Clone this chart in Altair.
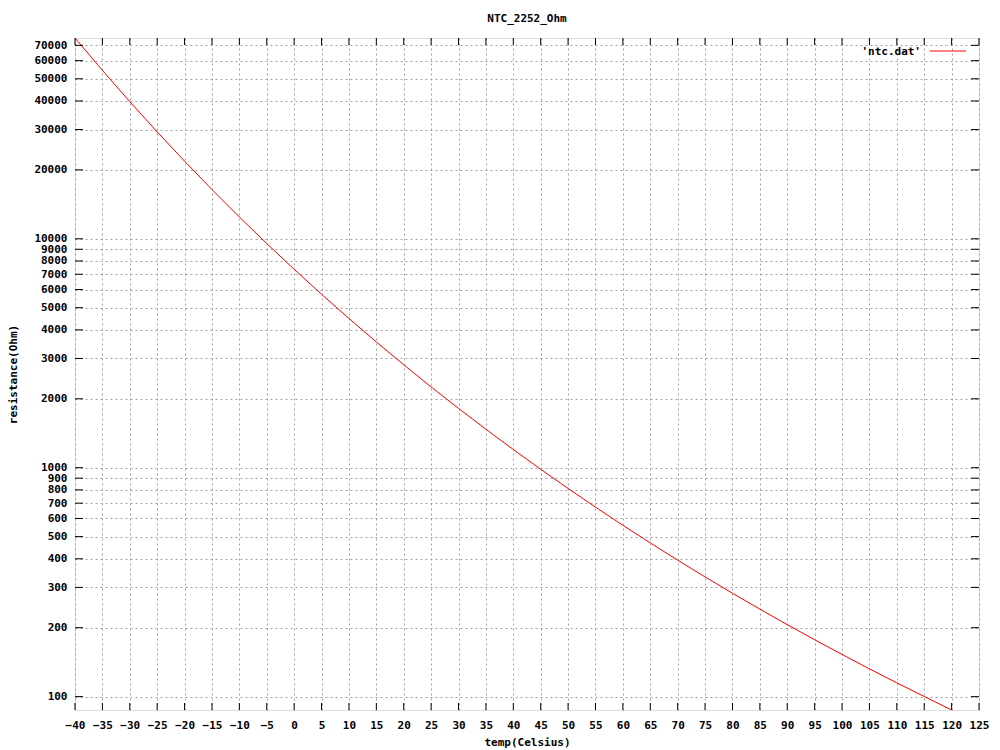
import altair as alt
import pandas as pd

# Data (NTC 2252 Ohm thermistor)
temps = [-40, -35, -30, -25, -20, -15, -10, -5, 0, 5, 10, 15, 20, 25, 30, 35, 40,
         45, 50, 55, 60, 65, 70, 75, 80, 85, 90, 95, 100, 105, 110, 115, 120]
resistance = [75360, 54410, 39720, 29300, 21830, 16410, 12450, 9533, 7357, 5723,
              4486, 3542, 2816, 2252, 1816, 1472, 1200, 984.1, 811.4, 672.6, 560.3,
              469.1, 394.5, 333.3, 282.9, 241.1, 206.3, 177.2, 152.8, 132.2, 114.8,
              100.1, 87.4]

x_ticks = list(range(-40, 130, 5))
y_ticks = [100, 200, 300, 400, 500, 600, 700, 800, 900,
           1000, 2000, 3000, 4000, 5000, 6000, 7000, 8000, 9000,
           10000, 20000, 30000, 40000, 50000, 60000, 70000]

title_text = "NTC_2252_Ohm"
x_title = "temp(Celsius)"
y_title = "resistance(Ohm)"
legend_label = "'ntc.dat'"

W, H = 904, 672
TICK = 7
FONT = "DejaVu Sans Mono"

df = pd.DataFrame({"temp": temps, "res": resistance})
dfx = pd.DataFrame({"temp": x_ticks})
dfy = pd.DataFrame({"res": y_ticks})

xscale = alt.Scale(domain=[-40, 125], nice=False, zero=False)
yscale = alt.Scale(type="log", domain=[87.4, 75360], nice=False)

xaxis = alt.Axis(values=x_ticks, grid=True, tickSize=0, domain=False,
                 labelPadding=9, labelFont=FONT, labelFontSize=11, labelFontWeight="bold",
                 labelColor="black", labelFlush=False, labelOverlap=False,
                 title=x_title, titleFont=FONT, titleFontSize=11, titleFontWeight="bold",
                 titleColor="black",
                 titleX=W / 2, titleY=32, titleBaseline="middle", titleAlign="center",
                 gridColor="#a0a0a0", gridDash=[2, 3], gridWidth=1, format="d")
yaxis = alt.Axis(values=y_ticks, grid=True, tickSize=0, domain=False,
                 labelPadding=8, labelFont=FONT, labelFontSize=11, labelFontWeight="bold",
                 labelColor="black", labelFlush=False, labelOverlap=False,
                 title=y_title, titleFont=FONT, titleFontSize=11, titleFontWeight="bold",
                 titleColor="black",
                 titleX=-62, titleY=H / 2, titleAngle=270, titleBaseline="middle",
                 titleAlign="center",
                 gridColor="#a0a0a0", gridDash=[2, 3], gridWidth=1, format="d")

X = alt.X("temp:Q", scale=xscale, axis=xaxis)
Y = alt.Y("res:Q", scale=yscale, axis=yaxis)

line = alt.Chart(df).mark_line(color="#ff0000", strokeWidth=1, clip=True).encode(x=X, y=Y)

tick_style = dict(color="black", strokeWidth=1)
xt_bottom = alt.Chart(dfx).mark_rule(**tick_style).encode(
    x=X, y=alt.value(H - TICK), y2=alt.value(H))
xt_top = alt.Chart(dfx).mark_rule(**tick_style).encode(
    x=X, y=alt.value(0), y2=alt.value(TICK))
yt_left = alt.Chart(dfy).mark_rule(**tick_style).encode(
    y=Y, x=alt.value(0), x2=alt.value(TICK + 1))
yt_right = alt.Chart(dfy).mark_rule(**tick_style).encode(
    y=Y, x=alt.value(W - TICK - 1), x2=alt.value(W))

legend_df = pd.DataFrame({"label": [legend_label]})
legend_text = alt.Chart(legend_df).mark_text(
    align="right", baseline="middle", font=FONT, fontSize=11, fontWeight="bold",
    color="black").encode(text="label:N", x=alt.value(846), y=alt.value(14))
legend_line = alt.Chart(legend_df).mark_rule(color="#ff0000", strokeWidth=1).encode(
    x=alt.value(855), x2=alt.value(891), y=alt.value(13))

chart = alt.layer(line, xt_bottom, xt_top, yt_left, yt_right, legend_text, legend_line).properties(
    width=W, height=H,
    title=alt.TitleParams(title_text, font=FONT, fontSize=11, fontWeight="bold",
                          color="black", anchor="middle", offset=14, frame="group"),
    autosize=alt.AutoSizeParams(type="none"),
    padding={"left": 67, "top": 30, "right": 12, "bottom": 40},
).configure_view(stroke="black", strokeWidth=1).configure(background="white")

chart.save("out.html", embed_options={"renderer": "svg", "actions": False})
